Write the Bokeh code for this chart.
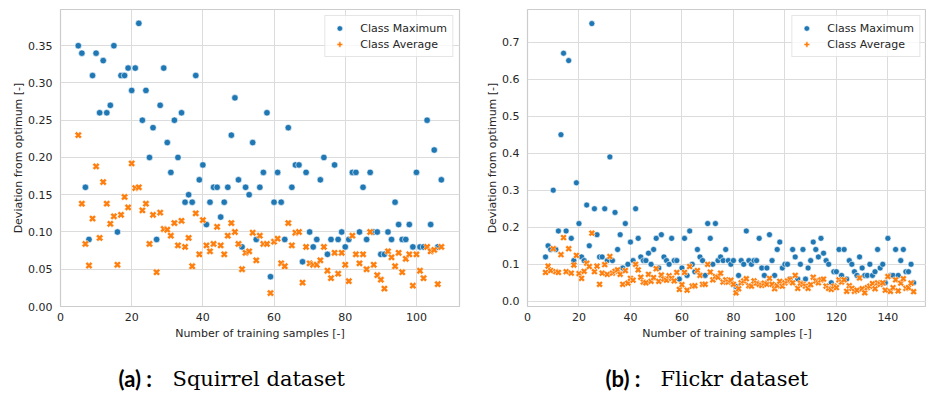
import math
from bokeh.plotting import figure
from bokeh.layouts import column, row
from bokeh.models import Range1d, FixedTicker, NumeralTickFormatter, Legend, LegendItem
from bokeh.embed import file_html
from bokeh.resources import INLINE
from bokeh.core.properties import value

# ---- Squirrel dataset: training samples 5..107 ----
squirrel_n = list(range(5, 108))
squirrel_max = [
    0.35, 0.34, 0.16, 0.09, 0.31, 0.34, 0.26, 0.33, 0.26, 0.27,
    0.35, 0.10, 0.31, 0.31, 0.32, 0.29, 0.32, 0.38, 0.25, 0.29,
    0.20, 0.24, 0.09, 0.27, 0.32, 0.22, 0.18, 0.25, 0.20, 0.26,
    0.14, 0.15, 0.14, 0.31, 0.17, 0.19, 0.11, 0.14, 0.16, 0.16,
    0.12, 0.14, 0.16, 0.23, 0.28, 0.17, 0.08, 0.16, 0.15, 0.22,
    0.09, 0.16, 0.18, 0.26, 0.04, 0.14, 0.18, 0.14, 0.09, 0.24,
    0.16, 0.19, 0.19, 0.06, 0.18, 0.10, 0.08, 0.09, 0.17, 0.20,
    0.07, 0.09, 0.19, 0.09, 0.10, 0.08, 0.09, 0.18, 0.18, 0.10,
    0.16, 0.09, 0.18, 0.10, 0.10, 0.07, 0.07, 0.10, 0.09, 0.14,
    0.11, 0.09, 0.09, 0.11, 0.08, 0.18, 0.08, 0.08, 0.25, 0.11,
    0.21, 0.08, 0.17,
]
squirrel_avg = [
    0.230, 0.138, 0.084, 0.055, 0.118, 0.188, 0.092, 0.167, 0.138, 0.111,
    0.121, 0.056, 0.123, 0.147, 0.133, 0.192, 0.159, 0.160, 0.129, 0.138,
    0.084, 0.123, 0.046, 0.126, 0.104, 0.103, 0.095, 0.112, 0.082, 0.115,
    0.080, 0.092, 0.054, 0.125, 0.070, 0.116, 0.082, 0.074, 0.084, 0.107,
    0.082, 0.070, 0.095, 0.112, 0.100, 0.084, 0.050, 0.072, 0.074, 0.099,
    0.062, 0.095, 0.084, 0.084, 0.018, 0.087, 0.091, 0.058, 0.054, 0.112,
    0.082, 0.099, 0.100, 0.032, 0.080, 0.058, 0.056, 0.056, 0.062, 0.080,
    0.048, 0.038, 0.072, 0.044, 0.072, 0.056, 0.034, 0.095, 0.070, 0.058,
    0.070, 0.050, 0.100, 0.056, 0.042, 0.036, 0.024, 0.074, 0.066, 0.054,
    0.072, 0.046, 0.064, 0.070, 0.028, 0.070, 0.048, 0.038, 0.080, 0.074,
    0.076, 0.030, 0.080,
]

# ---- Flickr dataset: training samples 7..150 ----
flickr_n = list(range(7, 151))
flickr_max = [
    0.12, 0.15, 0.14, 0.30, 0.14, 0.19, 0.45, 0.67, 0.19, 0.65,
    0.17, 0.11, 0.32, 0.21, 0.12, 0.11, 0.26, 0.15, 0.75, 0.25,
    0.18, 0.12, 0.12, 0.25, 0.11, 0.39, 0.11, 0.24, 0.14, 0.18,
    0.09, 0.21, 0.10, 0.16, 0.11, 0.25, 0.17, 0.12, 0.11, 0.11,
    0.13, 0.10, 0.14, 0.17, 0.09, 0.18, 0.12, 0.11, 0.10, 0.17,
    0.11, 0.11, 0.06, 0.09, 0.17, 0.07, 0.19, 0.10, 0.08, 0.14,
    0.12, 0.11, 0.07, 0.21, 0.17, 0.10, 0.21, 0.11, 0.12, 0.11,
    0.14, 0.11, 0.10, 0.11, 0.04, 0.07, 0.11, 0.10, 0.19, 0.11,
    0.10, 0.11, 0.11, 0.17, 0.09, 0.07, 0.09, 0.18, 0.11, 0.07,
    0.14, 0.16, 0.09, 0.10, 0.10, 0.06, 0.14, 0.12, 0.06, 0.10,
    0.14, 0.06, 0.09, 0.11, 0.16, 0.14, 0.12, 0.17, 0.13, 0.11,
    0.10, 0.05, 0.08, 0.08, 0.14, 0.07, 0.14, 0.06, 0.11, 0.10,
    0.08, 0.07, 0.12, 0.09, 0.07, 0.07, 0.10, 0.07, 0.08, 0.14,
    0.09, 0.10, 0.05, 0.17, 0.07, 0.07, 0.14, 0.07, 0.11, 0.14,
    0.08, 0.08, 0.10, 0.05,
]
flickr_avg = [
    0.078, 0.095, 0.083, 0.142, 0.080, 0.078, 0.126, 0.172, 0.080, 0.142,
    0.076, 0.098, 0.124, 0.075, 0.062, 0.081, 0.103, 0.094, 0.184, 0.080,
    0.095, 0.046, 0.076, 0.099, 0.073, 0.121, 0.076, 0.081, 0.085, 0.073,
    0.046, 0.083, 0.049, 0.062, 0.057, 0.100, 0.085, 0.065, 0.052, 0.050,
    0.073, 0.054, 0.064, 0.088, 0.054, 0.071, 0.060, 0.057, 0.069, 0.062,
    0.055, 0.078, 0.032, 0.045, 0.078, 0.030, 0.094, 0.041, 0.042, 0.083,
    0.070, 0.046, 0.046, 0.100, 0.079, 0.058, 0.067, 0.065, 0.076, 0.052,
    0.058, 0.052, 0.057, 0.046, 0.023, 0.034, 0.050, 0.055, 0.061, 0.042,
    0.041, 0.055, 0.049, 0.046, 0.043, 0.049, 0.046, 0.062, 0.046, 0.034,
    0.042, 0.054, 0.041, 0.050, 0.055, 0.059, 0.050, 0.070, 0.035, 0.049,
    0.046, 0.041, 0.035, 0.045, 0.065, 0.055, 0.050, 0.058, 0.060, 0.041,
    0.035, 0.032, 0.041, 0.037, 0.058, 0.052, 0.058, 0.027, 0.042, 0.035,
    0.027, 0.030, 0.063, 0.034, 0.023, 0.037, 0.041, 0.048, 0.034, 0.050,
    0.046, 0.050, 0.030, 0.067, 0.027, 0.037, 0.058, 0.028, 0.049, 0.061,
    0.035, 0.037, 0.049, 0.026,
]

series_labels = ["Class Maximum", "Class Average"]
x_title = "Number of training samples [-]"
y_title = "Deviation from optimum [-]"
caption_tags = ["(a) :", "(b) :"]
caption_names = ["Squirrel dataset", "Flickr dataset"]

squirrel_xticks = [0, 20, 40, 60, 80, 100]
squirrel_yticks = [0.0, 0.05, 0.10, 0.15, 0.20, 0.25, 0.30, 0.35]
flickr_xticks = [0, 20, 40, 60, 80, 100, 120, 140]
flickr_yticks = [0.0, 0.1, 0.2, 0.3, 0.4, 0.5, 0.6, 0.7]

BLUE = "#1f77b4"
ORANGE = "#ff7f0e"
TEXT = "#262626"
GRID = "#dcdcdc"
SPINE = "#cccccc"
FONT = "DejaVu Sans"


def scatter_panel(n, vmax, vavg, xr, yr, xticks, yticks, yfmt,
                  border_l, border_r, border_t, border_b, msize):
    p = figure(width=463, height=345, x_range=Range1d(*xr), y_range=Range1d(*yr),
               output_backend="svg", toolbar_location=None,
               min_border_left=border_l, min_border_right=border_r,
               min_border_top=border_t, min_border_bottom=border_b,
               background_fill_color="white", border_fill_color="white")
    p.outline_line_color = SPINE
    p.outline_line_width = 1.2

    for ax in (p.xaxis[0], p.yaxis[0]):
        ax.axis_line_color = None
        ax.major_tick_line_color = None
        ax.minor_tick_line_color = None
        ax.major_tick_in = 0
        ax.major_tick_out = 0
        ax.major_label_text_font = FONT
        ax.major_label_text_font_size = "11px"
        ax.major_label_text_color = TEXT
        ax.axis_label_text_font = FONT
        ax.axis_label_text_font_size = "11px"
        ax.axis_label_text_font_style = "normal"
        ax.axis_label_text_color = TEXT

    p.xaxis.ticker = FixedTicker(ticks=xticks)
    p.yaxis.ticker = FixedTicker(ticks=yticks)
    p.yaxis.formatter = NumeralTickFormatter(format=yfmt)
    p.xaxis.axis_label = x_title
    p.yaxis.axis_label = y_title
    p.xaxis.major_label_standoff = 6
    p.xaxis.axis_label_standoff = 3
    p.yaxis.major_label_standoff = 8
    p.yaxis.axis_label_standoff = 0

    p.xgrid.grid_line_color = GRID
    p.ygrid.grid_line_color = GRID
    p.xgrid.grid_line_width = 1
    p.ygrid.grid_line_width = 1

    p.scatter(n, vmax, marker="circle", size=msize, fill_color=BLUE,
              line_color="white", line_width=0.6)
    p.scatter(n, vavg, marker="plus", angle=math.pi / 4, size=msize + 1,
              fill_color=ORANGE, line_color="white", line_width=0.5)

    # larger key symbols for the legend (a single NaN point, so nothing is plotted)
    key_max = p.scatter([math.nan], [math.nan], marker="circle", size=9,
                        fill_color=BLUE, line_color="white", line_width=0.6)
    key_avg = p.scatter([math.nan], [math.nan], marker="plus", angle=math.pi / 4,
                        size=10, fill_color=ORANGE, line_color="white", line_width=0.5)

    legend = Legend(items=[LegendItem(label=series_labels[0], renderers=[key_max]),
                           LegendItem(label=series_labels[1], renderers=[key_avg])],
                    location="top_right", margin=6, padding=5, spacing=2,
                    glyph_width=18, glyph_height=14, label_standoff=12,
                    label_text_font=FONT, label_text_font_size="11px",
                    label_text_color=TEXT, label_height=14,
                    border_line_color=SPINE, border_line_width=1,
                    background_fill_color="white", background_fill_alpha=0.8)
    p.add_layout(legend)
    return p


left = scatter_panel(squirrel_n, squirrel_max, squirrel_avg,
                     (0, 112.1), (0, 0.3986), squirrel_xticks, squirrel_yticks, "0.00",
                     60, 4, 9, 38, 6.5)
right = scatter_panel(flickr_n, flickr_max, flickr_avg,
                      (0, 155.0), (-0.014, 0.788), flickr_xticks, flickr_yticks, "0.0",
                      64, 0, 4, 39, 6.0)

# Subfigure captions underneath both panels
cap = figure(width=926, height=52, x_range=Range1d(0, 926), y_range=Range1d(52, 0),
             x_axis_type=None, y_axis_type=None, output_backend="svg",
             toolbar_location=None, min_border=0)
cap.outline_line_color = None
cap.xgrid.visible = False
cap.ygrid.visible = False
cap.text(x=[118, 605], y=[33, 33], text=caption_tags, text_font=value("Lato"),
         text_font_style="bold", text_font_size="22px", text_baseline="middle",
         text_align="left", text_color="black")
cap.text(x=[172, 660], y=[33, 33], text=caption_names, text_font=value("DejaVu Serif"),
         text_font_size="21px", text_baseline="middle", text_align="left",
         text_color="black")

layout = column(row(left, right), cap)
open("out.html", "w").write(file_html(layout, INLINE))
